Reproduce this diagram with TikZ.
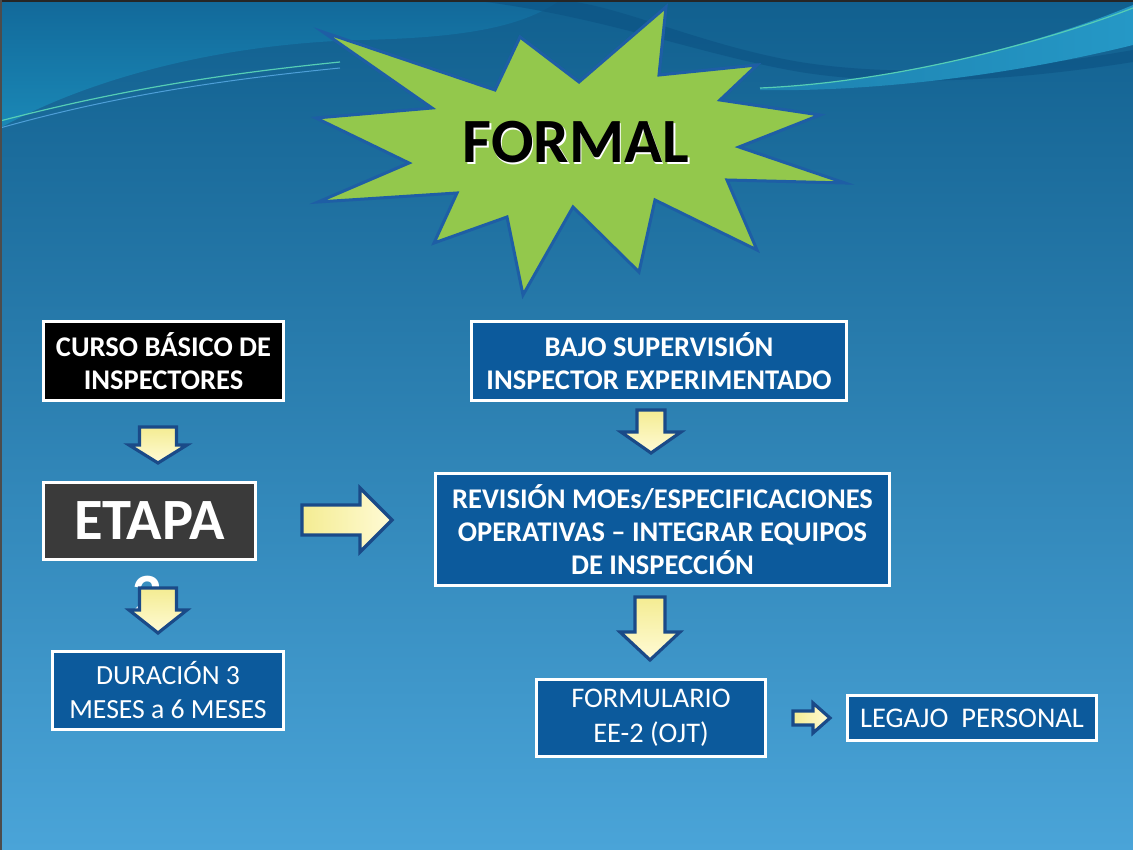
\documentclass[tikz,border=0pt]{standalone}
\usepackage{fontspec}
\setmainfont{Carlito}
\usetikzlibrary{calc}
\definecolor{bgtop}{HTML}{11608F}
\definecolor{bgmid}{HTML}{2A7DB6}
\definecolor{bgbot}{HTML}{4AA4D8}
\definecolor{waveA}{HTML}{1A88B6}
\definecolor{waveAt}{HTML}{12699A}
\definecolor{waveB}{HTML}{2598C6}
\definecolor{waveDark}{HTML}{0C5283}
\definecolor{lineG}{HTML}{55CDB5}
\definecolor{lineB}{HTML}{4E9FD8}
\definecolor{boxblue}{HTML}{0C5A9C}
\definecolor{etapagrey}{HTML}{3A3A3A}
\definecolor{stargreen}{HTML}{93C84C}
\definecolor{starline}{HTML}{1E5EA5}
\definecolor{arrA}{HTML}{F4EC92}
\definecolor{arrB}{HTML}{FFFBD6}
\definecolor{arrline}{HTML}{1A4A88}
\tikzset{
  box/.style={draw=white, line width=3pt, text=white, align=center, inner sep=0pt},
  boldtxt/.style={font=\fontsize{28.5}{33}\selectfont\bfseries},
  bigtxt/.style={font=\fontsize{28.5}{33}\selectfont\bfseries},
  regtxt/.style={font=\fontsize{27.7}{34}\selectfont},
  arrowline/.style={draw=arrline, line width=3.2pt, line join=miter},
  pics/downarr/.style n args={4}{code={
    \draw[arrowline, top color=arrA, bottom color=arrB]
      (-#1,0) -- (#1,0) -- (#1,#3) -- (#2,#3) -- (0,#4) -- (-#2,#3) -- (-#1,#3) -- cycle;}},
  pics/rightarr/.style n args={4}{code={
    \draw[arrowline, left color=arrA, right color=arrB]
      (0,-#1) -- (#3,-#1) -- (#3,-#2) -- (#4,0) -- (#3,#2) -- (#3,#1) -- (0,#1) -- cycle;}},
}
\begin{document}
\begin{tikzpicture}[x=1pt,y=-1pt]
\useasboundingbox (0,0) rectangle (1133,850);
% background
\shade[top color=bgtop, middle color=bgmid, bottom color=bgbot] (0,0) rectangle (1133,850);
\shade[top color=waveAt, bottom color=waveA] (0,0) -- (0,128) .. controls (90,78) and (220,44) .. (360,40) .. controls (450,38) and (520,30) .. (560,0) -- cycle;
\fill[waveDark, opacity=0.6] (470,0) .. controls (600,15) and (700,55) .. (800,72) .. controls (900,88) and (1020,80) .. (1133,62) -- (1133,50) .. controls (1020,70) and (900,78) .. (800,62) .. controls (700,45) and (620,5) .. (560,0) -- cycle;
\shade[left color=waveB!60!bgtop, right color=waveB] (760,90) .. controls (860,92) and (1000,78) .. (1133,45) -- (1133,5) .. controls (1050,40) and (900,82) .. (760,88) -- cycle;
\draw[lineG, line width=1.2pt] (0,121) .. controls (100,95) and (200,76) .. (340,62);
\draw[lineB, line width=1pt] (0,128) .. controls (100,100) and (200,82) .. (340,68);
\draw[lineG, line width=1.2pt] (760,88) .. controls (900,82) and (1050,40) .. (1133,8);
\draw[black!85, line width=2pt] (0,1) -- (1133,1);
\draw[black!70, line width=2pt] (1,0) -- (1,850);
% star
\draw[fill=stargreen, draw=starline, line width=3pt, line join=miter]
  (323,32) -- (495,90) -- (520,37) -- (579,82) -- (666,7) -- (659,75) -- (757,65) -- (720,100)
  -- (820,115) -- (739,147) -- (845,183) -- (727,180) -- (757,250) -- (655,200) -- (639,272)
  -- (573,207) -- (523,295) -- (507,217) -- (434,243) -- (457,193) -- (318,202) -- (409,163)
  -- (316,118) -- (432,108) -- cycle;
\node[anchor=base, text=white, font=\fontsize{63}{63}\selectfont\bfseries] (formalshadow) at (577.5,164.5) {FORMAL};
\node[anchor=base, text=black, font=\fontsize{63}{63}\selectfont\bfseries] (formal) at (576,163) {FORMAL};
% boxes
\node[box, boldtxt, fill=black, minimum width=240, minimum height=79] (curso) at (163.5,361) {CURSO BÁSICO DE\\INSPECTORES};
\node[box, fill=etapagrey, text=white, minimum width=212, minimum height=77, font=\fontsize{58.5}{60}\selectfont\bfseries] (etapa) at (149.5,521) {ETAPA};
\node[anchor=base, text=white, font=\fontsize{58.5}{60}\selectfont\bfseries] (dos) at (147,614) {2};
\node[box, regtxt, fill=boxblue, minimum width=231, minimum height=78] (duracion) at (168,690.5) {DURACIÓN 3\\MESES a 6 MESES};
\node[box, bigtxt, fill=boxblue, minimum width=375, minimum height=79] (bajo) at (659,361) {BAJO SUPERVISIÓN\\INSPECTOR EXPERIMENTADO};
\node[box, bigtxt, fill=boxblue, minimum width=454, minimum height=112] (revision) at (662.5,529.5) {REVISIÓN MOEs/ESPECIFICACIONES\\OPERATIVAS – INTEGRAR EQUIPOS\\DE INSPECCIÓN};
\node[box, font=\fontsize{28.4}{35}\selectfont, fill=boxblue, minimum width=229, minimum height=77] (formulario) at (651,718) {FORMULARIO\\EE-2 (OJT)};
\node[box, font=\fontsize{28.5}{34}\selectfont, fill=boxblue, minimum width=249, minimum height=45] (legajo) at (972,718) {LEGAJO\ \ PERSONAL};
% arrows
\pic at (158,427) {downarr={18.5}{29}{18}{36}};
\pic at (158,588) {downarr={18.5}{29}{22}{45}};
\pic at (651,410) {downarr={14}{30}{22}{43}};
\pic at (650,597) {downarr={15}{30}{35}{63}};
\pic at (302,520) {rightarr={15}{32}{58}{90}};
\pic at (793,718) {rightarr={7}{15}{20}{37}};
\end{tikzpicture}
\end{document}
